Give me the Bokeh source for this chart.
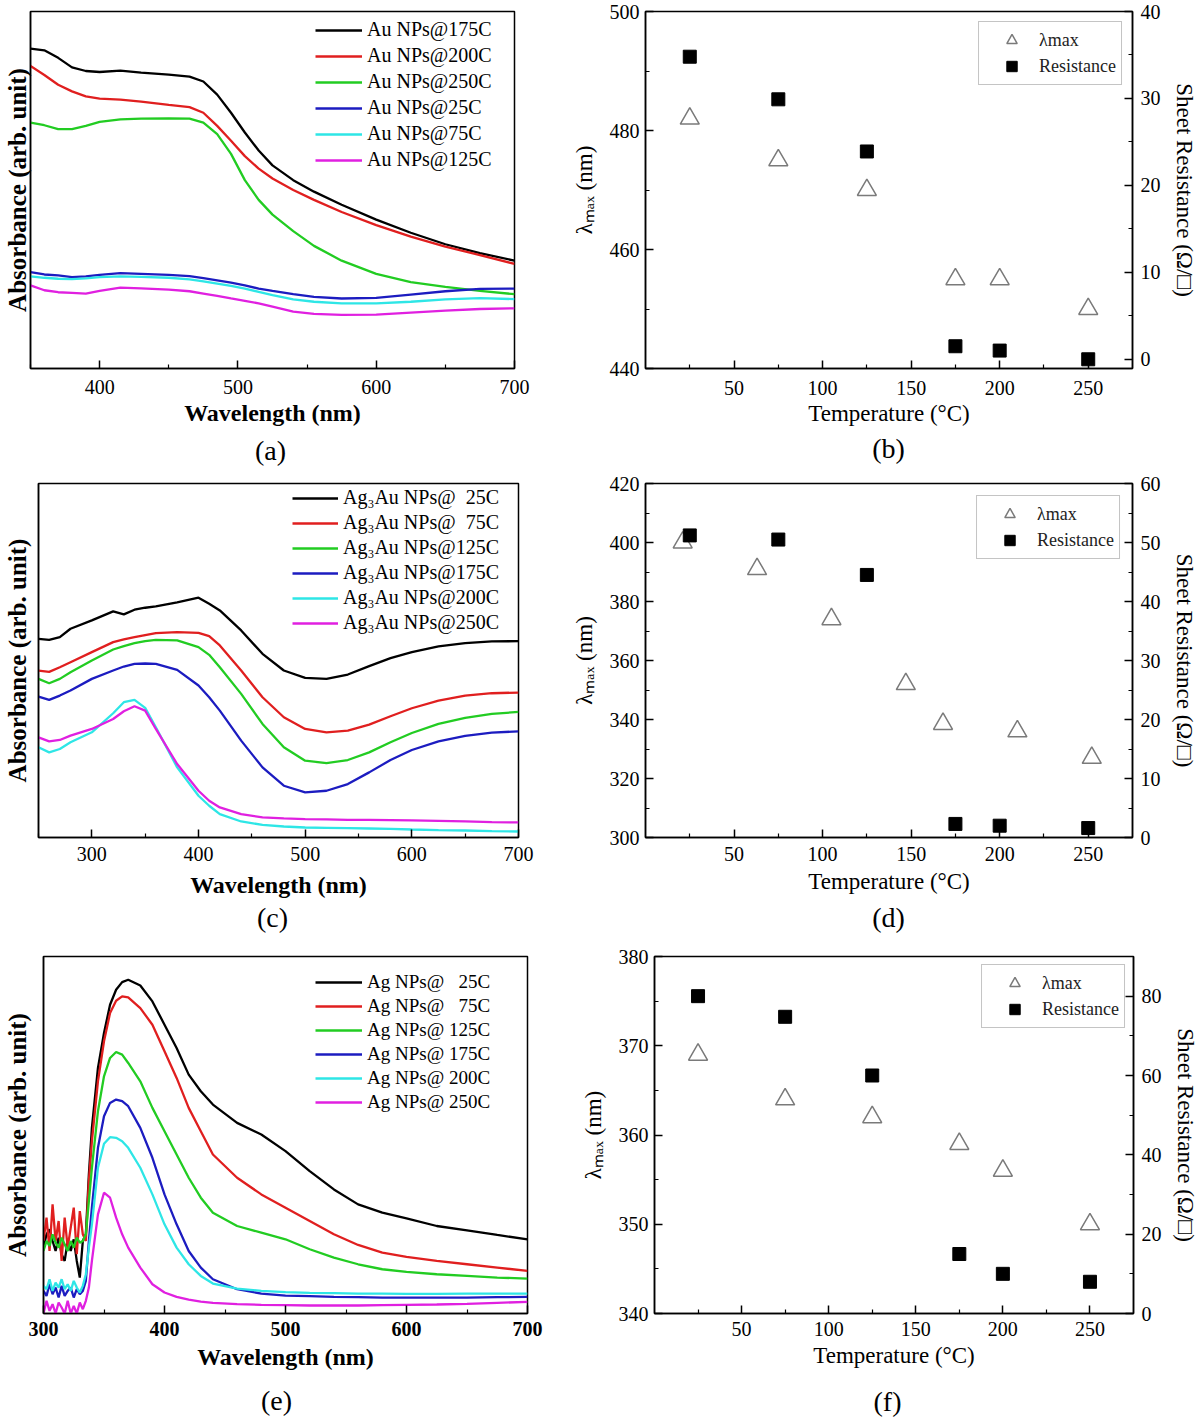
from bokeh.plotting import figure
from bokeh.models import Range1d, LinearAxis, FixedTicker
from bokeh.core.properties import value
from bokeh.layouts import column, row
from bokeh.embed import file_html
from bokeh.resources import INLINE

SERIF = "Liberation Serif"
COLORS = ["#000000", "#e01f1f", "#22cc22", "#1c1cc0", "#2ee6e6", "#e020e0"]

# ---------------- (a) Au NPs spectra ----------------
wl_a = [350, 360, 370, 380, 390, 400, 415, 430, 450, 465, 475, 485, 495, 505, 515, 525, 540, 555, 575, 600, 625, 650, 675, 700]
a_175 = [0.973, 0.968, 0.945, 0.916, 0.905, 0.902, 0.906, 0.900, 0.894, 0.888, 0.873, 0.833, 0.778, 0.718, 0.663, 0.618, 0.573, 0.538, 0.498, 0.453, 0.413, 0.378, 0.351, 0.328]
a_200 = [0.920, 0.893, 0.863, 0.843, 0.828, 0.821, 0.818, 0.812, 0.802, 0.795, 0.778, 0.738, 0.693, 0.646, 0.608, 0.578, 0.543, 0.513, 0.476, 0.436, 0.401, 0.371, 0.345, 0.318]
a_250 = [0.748, 0.740, 0.728, 0.728, 0.738, 0.750, 0.758, 0.760, 0.761, 0.760, 0.748, 0.713, 0.653, 0.573, 0.513, 0.468, 0.418, 0.373, 0.328, 0.288, 0.263, 0.248, 0.236, 0.226]
a_25 = [0.293, 0.286, 0.283, 0.278, 0.280, 0.285, 0.290, 0.288, 0.285, 0.281, 0.275, 0.268, 0.261, 0.253, 0.243, 0.236, 0.226, 0.218, 0.213, 0.215, 0.225, 0.235, 0.242, 0.243]
a_75 = [0.280, 0.276, 0.273, 0.272, 0.274, 0.278, 0.280, 0.279, 0.276, 0.271, 0.265, 0.258, 0.251, 0.243, 0.233, 0.223, 0.210, 0.203, 0.198, 0.198, 0.203, 0.210, 0.214, 0.211]
a_125 = [0.253, 0.238, 0.232, 0.230, 0.228, 0.236, 0.246, 0.244, 0.240, 0.235, 0.228, 0.221, 0.213, 0.206, 0.198, 0.188, 0.173, 0.166, 0.163, 0.164, 0.170, 0.176, 0.181, 0.183]
labels_a = ["Au NPs@175C", "Au NPs@200C", "Au NPs@250C", "Au NPs@25C", "Au NPs@75C", "Au NPs@125C"]

# ---------------- (c) Ag3Au NPs spectra ----------------
wl_c = [250, 260, 270, 280, 300, 320, 330, 340, 350, 360, 380, 400, 410, 420, 440, 460, 480, 500, 520, 540, 560, 580, 600, 625, 650, 675, 700]
c_25 = [0.595, 0.592, 0.600, 0.625, 0.650, 0.677, 0.668, 0.682, 0.688, 0.692, 0.704, 0.718, 0.700, 0.680, 0.620, 0.550, 0.500, 0.478, 0.475, 0.488, 0.513, 0.537, 0.555, 0.572, 0.582, 0.587, 0.588]
c_75 = [0.500, 0.496, 0.510, 0.525, 0.555, 0.585, 0.593, 0.600, 0.606, 0.612, 0.615, 0.613, 0.603, 0.575, 0.500, 0.420, 0.360, 0.325, 0.315, 0.320, 0.338, 0.363, 0.387, 0.410, 0.425, 0.432, 0.434]
c_125 = [0.475, 0.462, 0.475, 0.495, 0.530, 0.563, 0.573, 0.582, 0.588, 0.592, 0.590, 0.570, 0.547, 0.510, 0.430, 0.340, 0.270, 0.230, 0.223, 0.232, 0.255, 0.285, 0.313, 0.340, 0.358, 0.370, 0.376]
c_175 = [0.422, 0.412, 0.425, 0.440, 0.475, 0.500, 0.512, 0.520, 0.521, 0.520, 0.502, 0.455, 0.420, 0.380, 0.290, 0.210, 0.155, 0.135, 0.140, 0.160, 0.195, 0.232, 0.262, 0.288, 0.304, 0.314, 0.318]
c_200 = [0.270, 0.255, 0.265, 0.285, 0.315, 0.372, 0.405, 0.412, 0.388, 0.330, 0.210, 0.125, 0.095, 0.070, 0.048, 0.038, 0.033, 0.030, 0.029, 0.028, 0.027, 0.026, 0.024, 0.022, 0.021, 0.019, 0.018]
c_250 = [0.300, 0.288, 0.292, 0.305, 0.325, 0.355, 0.378, 0.393, 0.380, 0.325, 0.220, 0.140, 0.110, 0.090, 0.070, 0.060, 0.057, 0.055, 0.054, 0.053, 0.053, 0.052, 0.051, 0.050, 0.048, 0.046, 0.045]
labels_c = ["Ag\u2083Au NPs@\u200725C", "Ag\u2083Au NPs@\u200775C", "Ag\u2083Au NPs@125C",
            "Ag\u2083Au NPs@175C", "Ag\u2083Au NPs@200C", "Ag\u2083Au NPs@250C"]

# ---------------- (e) Ag NPs spectra ----------------
wl_e = [300, 302.5, 305, 307.5, 310, 312.5, 315, 317.5, 320, 322.5, 325, 327.5, 330, 332.5, 335,
        337.5, 340, 345, 350, 355, 360, 365, 370, 380, 390, 400, 410, 420, 430, 440, 460, 480, 500,
        520, 540, 560, 580, 600, 625, 650, 675, 700]
e_25 = [0.198, 0.238, 0.253, 0.218, 0.188, 0.228, 0.178, 0.158, 0.218, 0.188, 0.223, 0.158, 0.108, 0.218, 0.238,
        0.418, 0.558, 0.738, 0.843, 0.928, 0.973, 0.996, 1.003, 0.986, 0.938, 0.868, 0.798, 0.718, 0.668, 0.628,
        0.573, 0.538, 0.488, 0.428, 0.373, 0.328, 0.303, 0.286, 0.263, 0.250, 0.236, 0.223]
e_75 = [0.218, 0.288, 0.188, 0.328, 0.218, 0.278, 0.158, 0.288, 0.198, 0.258, 0.318, 0.178, 0.308, 0.238, 0.218,
        0.398, 0.518, 0.698, 0.818, 0.903, 0.940, 0.953, 0.950, 0.918, 0.868, 0.788, 0.708, 0.618, 0.548, 0.478,
        0.408, 0.358, 0.318, 0.278, 0.238, 0.206, 0.183, 0.170, 0.158, 0.148, 0.138, 0.128]
e_125 = [0.188, 0.218, 0.203, 0.238, 0.213, 0.198, 0.228, 0.208, 0.188, 0.218, 0.198, 0.228, 0.213, 0.218, 0.238,
         0.338, 0.438, 0.608, 0.713, 0.768, 0.786, 0.778, 0.753, 0.698, 0.618, 0.548, 0.478, 0.408, 0.348, 0.303,
         0.263, 0.243, 0.223, 0.193, 0.168, 0.148, 0.133, 0.125, 0.118, 0.113, 0.108, 0.105]
e_175 = [0.068, 0.053, 0.088, 0.058, 0.078, 0.048, 0.083, 0.053, 0.068, 0.078, 0.048, 0.073, 0.058, 0.068, 0.098,
         0.218, 0.318, 0.498, 0.593, 0.633, 0.643, 0.638, 0.623, 0.558, 0.468, 0.358, 0.268, 0.188, 0.138, 0.103,
         0.073, 0.060, 0.054, 0.052, 0.050, 0.049, 0.048, 0.048, 0.048, 0.048, 0.049, 0.050]
e_200 = [0.083, 0.073, 0.103, 0.068, 0.093, 0.078, 0.103, 0.073, 0.088, 0.068, 0.098, 0.078, 0.063, 0.083, 0.118,
         0.198, 0.268, 0.438, 0.510, 0.530, 0.528, 0.518, 0.498, 0.438, 0.358, 0.268, 0.198, 0.148, 0.113, 0.090,
         0.075, 0.068, 0.064, 0.062, 0.061, 0.060, 0.060, 0.059, 0.059, 0.060, 0.060, 0.060]
e_250 = [0.000, 0.038, 0.008, 0.028, 0.000, 0.033, 0.018, 0.000, 0.038, 0.000, 0.023, 0.000, 0.033, 0.013, 0.038,
         0.078, 0.158, 0.298, 0.363, 0.348, 0.288, 0.238, 0.198, 0.138, 0.088, 0.063, 0.050, 0.042, 0.036, 0.032,
         0.028, 0.026, 0.025, 0.024, 0.024, 0.024, 0.025, 0.026, 0.027, 0.029, 0.032, 0.035]
labels_e = ["Ag NPs@ \u200725C", "Ag NPs@ \u200775C", "Ag NPs@ 125C", "Ag NPs@ 175C", "Ag NPs@ 200C", "Ag NPs@ 250C"]

# ---------------- (b) Au: lambda max & resistance ----------------
temp_b_lam = [25, 75, 125, 175, 200, 250]
lam_b = [482, 475, 470, 455, 455, 450]
temp_b_res = [25, 75, 125, 175, 200, 250]
res_b = [34.8, 29.9, 23.9, 1.5, 1.0, 0.0]

# ---------------- (d) Ag3Au ----------------
temp_d_lam = [21, 63, 105, 147, 168, 210, 252]
lam_d = [400, 391, 374, 352, 338.5, 336, 327]
temp_d_res = [25, 75, 125, 175, 200, 250]
res_d = [51.2, 50.5, 44.5, 2.3, 2.0, 1.6]

# ---------------- (f) Ag ----------------
temp_f_lam = [25, 75, 125, 175, 200, 250]
lam_f = [369, 364, 362, 359, 356, 350]
temp_f_res = [25, 75, 125, 175, 200, 250]
res_f = [80, 74.8, 60, 15, 10, 8]

captions_top = ["(a)", "(b)"]
captions_mid = ["(c)", "(d)"]
captions_bot = ["(e)", "(f)"]


def style_axis(ax, size="20px", bold=False):
    ax.axis_line_color = "black"
    ax.axis_line_width = 1.5
    ax.major_tick_line_color = "black"
    ax.major_tick_line_width = 1.5
    ax.minor_tick_line_color = "black"
    ax.minor_tick_line_width = 1.2
    ax.major_tick_in = 8
    ax.major_tick_out = 0
    ax.minor_tick_in = 4
    ax.minor_tick_out = 0
    ax.major_label_text_font = SERIF
    ax.major_label_text_font_size = size
    ax.major_label_text_font_style = "bold" if bold else "normal"
    ax.major_label_text_color = "black"
    ax.axis_label_text_font = SERIF
    ax.axis_label_text_color = "black"


def spectrum(width, height, borders, xr, ytop, xticks, xminor, tick_bold, wl, series, labels,
             leg_loc, glyph_w, leg_font, leg_spacing, offs):
    mbl, mbr, mbt, mbb = borders
    tick_s, lab_s, ylab_s = offs
    p = figure(width=width, height=height, x_range=xr, y_range=(0, ytop),
               output_backend="svg", toolbar_location=None,
               min_border_left=mbl, min_border_right=mbr, min_border_top=mbt, min_border_bottom=mbb)
    p.grid.visible = False
    p.outline_line_color = "black"
    p.outline_line_width = 1.5
    p.outline_line_alpha = 1.0
    for ys, lab, col in zip(series, labels, COLORS):
        p.line(wl, ys, line_color=col, line_width=2.3, legend_label=lab)
    xa = p.xaxis[0]
    style_axis(xa, "20px", tick_bold)
    xa.ticker = FixedTicker(ticks=xticks, minor_ticks=xminor)
    xa.axis_label = "Wavelength (nm)"
    xa.axis_label_text_font_size = "24px"
    xa.axis_label_text_font_style = "bold"
    xa.major_label_standoff = tick_s
    xa.axis_label_standoff = lab_s
    ya = p.yaxis[0]
    style_axis(ya)
    ya.ticker = FixedTicker(ticks=[])
    ya.major_label_standoff = 0
    ya.axis_label = "Absorbance (arb. unit)"
    ya.axis_label_text_font_size = "25px"
    ya.axis_label_text_font_style = "bold"
    ya.axis_label_standoff = ylab_s
    lg = p.legend[0]
    lg.location = leg_loc
    lg.border_line_color = None
    lg.background_fill_alpha = 0
    lg.label_text_font = SERIF
    lg.label_text_font_size = leg_font
    lg.label_text_color = "black"
    lg.glyph_width = glyph_w
    lg.glyph_height = 20
    lg.label_height = 20
    lg.spacing = leg_spacing
    lg.padding = 2
    lg.label_standoff = 5
    lg.margin = 0
    return p


def scatter_panel(width, height, borders, yr, yticks, yminor, rr, rticks, rminor,
                  tl, lam, tr, res, leg_margin, offs):
    mbl, mbr, mbt, mbb = borders
    tick_s, lab_s = offs
    p = figure(width=width, height=height, x_range=(0, 275), y_range=yr,
               output_backend="svg", toolbar_location=None,
               min_border_left=mbl, min_border_right=mbr, min_border_top=mbt, min_border_bottom=mbb)
    p.grid.visible = False
    p.outline_line_color = "black"
    p.outline_line_width = 1.5
    p.outline_line_alpha = 1.0
    p.extra_y_ranges = {"res": Range1d(*rr)}
    p.scatter(tl, lam, marker="triangle", size=19, fill_color=None, line_color="#7a7a7a",
              line_width=1.5, legend_label="\u03bbmax")
    p.scatter(tr, res, y_range_name="res", marker="square", size=13, fill_color="black",
              line_color="black", legend_label="Resistance")
    xa = p.xaxis[0]
    style_axis(xa, "20px")
    xa.ticker = FixedTicker(ticks=[50, 100, 150, 200, 250], minor_ticks=[25, 75, 125, 175, 225])
    xa.axis_label = "Temperature (\u00b0C)"
    xa.axis_label_text_font_size = "23px"
    xa.axis_label_text_font_style = "normal"
    xa.major_label_standoff = tick_s
    xa.axis_label_standoff = lab_s
    ya = p.yaxis[0]
    style_axis(ya, "20px")
    ya.ticker = FixedTicker(ticks=yticks, minor_ticks=yminor)
    ya.axis_label = "\u03bb\u2098\u2090\u2093 (nm)"
    ya.axis_label_text_font_size = "23px"
    ya.axis_label_text_font_style = "normal"
    ya.major_label_standoff = 6
    ya.axis_label_standoff = 10
    ra = LinearAxis(y_range_name="res", ticker=FixedTicker(ticks=rticks, minor_ticks=rminor),
                    axis_label="Sheet Resistance (\u03a9/\u25a1)")
    style_axis(ra, "20px")
    ra.axis_label_text_font_size = "23px"
    ra.axis_label_text_font_style = "normal"
    ra.major_label_standoff = 8
    ra.axis_label_standoff = 8
    p.add_layout(ra, "right")
    lg = p.legend[0]
    lg.location = "top_right"
    lg.margin = leg_margin
    lg.border_line_color = "#8a8a8a"
    lg.border_line_width = 1.5
    lg.background_fill_color = "white"
    lg.background_fill_alpha = 1.0
    lg.label_text_font = SERIF
    lg.label_text_font_size = "18px"
    lg.label_text_color = "#222222"
    lg.glyph_width = 55
    lg.glyph_height = 26
    lg.label_height = 20
    lg.spacing = 0
    lg.padding = 5
    lg.label_standoff = 0
    return p


def caption_strip(height, texts, xs, ys):
    p = figure(width=1200, height=height, x_range=(0, 1200), y_range=(height, 0),
               output_backend="svg", toolbar_location=None, min_border=0,
               x_axis_location=None, y_axis_location=None)
    p.grid.visible = False
    p.outline_line_color = None
    p.text(x=xs, y=ys, text=texts, text_align="center", text_baseline="middle",
           text_font=value(SERIF), text_font_size="28px", text_color="black")
    return p


# row 1 : 0..434 , captions 434..470
fa = spectrum(560, 434, (27, 46, 7, 65), (350, 700), 1.086, [400, 500, 600, 700], [350, 450, 550, 650],
              False, wl_a, [a_175, a_200, a_250, a_25, a_75, a_125], labels_a,
              (285, 197), 47, "20px", 3, (11, 3, 0))
fb = scatter_panel(640, 434, (85, 68, 11, 66), (440, 500), [440, 460, 480, 500], [450, 470, 490],
                   (-1.06, 40), [0, 10, 20, 30, 40], [5, 15, 25, 35],
                   temp_b_lam, lam_b, temp_b_res, res_b, 10, (12, 3))
cap1 = caption_strip(36, captions_top, [270, 888], [16, 14])

# row 2 : 470..902 , captions 902..946
fc = spectrum(560, 432, (36, 42, 13, 65), (250, 700), 1.06, [300, 400, 500, 600, 700],
              [250, 350, 450, 550, 650], False, wl_c, [c_25, c_75, c_125, c_175, c_200, c_250], labels_c,
              (254, 203), 46, "20px", 2, (9, 8, 8))
fd = scatter_panel(640, 432, (85, 68, 10, 58), (300, 420), [300, 320, 340, 360, 380, 400, 420],
                   [310, 330, 350, 370, 390, 410], (0, 60), [0, 10, 20, 30, 40, 50, 60],
                   [5, 15, 25, 35, 45, 55], temp_d_lam, lam_d, temp_d_res, res_d, 12, (9, 5))
cap2 = caption_strip(44, captions_mid, [272, 888], [15, 15])

# row 3 : 946..1376 , captions 1376..1418
fe = spectrum(560, 430, (41, 33, 9, 63), (300, 700), 1.073, [300, 400, 500, 600, 700],
              [350, 450, 550, 650], True, wl_e, [e_25, e_75, e_125, e_175, e_200, e_250], labels_e,
              (272, 200), 47, "19px", 2, (8, 5, 13))
ff = scatter_panel(640, 430, (94, 60, 10, 59), (340, 380), [340, 350, 360, 370, 380], [345, 355, 365, 375],
                   (0, 90), [0, 20, 40, 60, 80], [10, 30, 50, 70],
                   temp_f_lam, lam_f, temp_f_res, res_f, 8, (8, 4))
cap3 = caption_strip(42, captions_bot, [276, 887], [24, 25])

layout = column(row(fa, fb, spacing=0), cap1,
                row(fc, fd, spacing=0), cap2,
                row(fe, ff, spacing=0), cap3, spacing=0)
open("out.html", "w").write(file_html(layout, INLINE))
